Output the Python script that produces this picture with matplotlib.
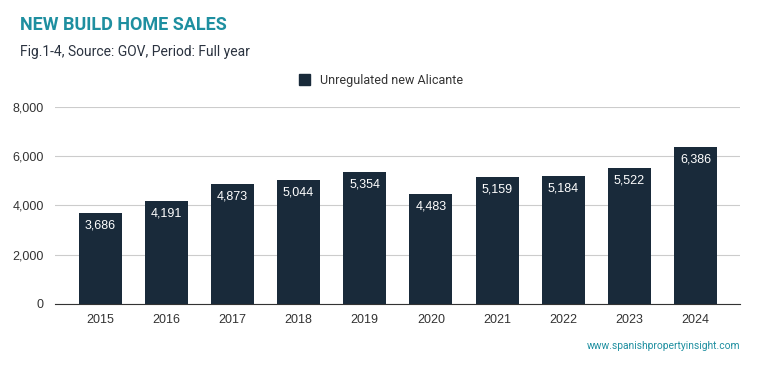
import matplotlib.pyplot as plt
from matplotlib.patches import Patch

plt.rcParams["font.family"] = ["Roboto", "DejaVu Sans"]

years = ["2015", "2016", "2017", "2018", "2019", "2020", "2021", "2022", "2023", "2024"]
sales = [3686, 4191, 4873, 5044, 5354, 4483, 5159, 5184, 5522, 6386]
yticks = [0, 2000, 4000, 6000, 8000]

BAR = "#192a3a"
TEAL = "#1e8fa0"
AX_FONT = ["Liberation Sans", "DejaVu Sans"]

fig = plt.figure(figsize=(7.59, 3.71), dpi=100)
ax = fig.add_axes([0.0725, 0.1806, 0.9025, 0.531])

x = range(len(years))
bars = ax.bar(x, sales, width=0.65, color=BAR, zorder=3)
for b, v in zip(bars, sales):
    ax.text(b.get_x() + b.get_width() / 2, v - 270, f"{v:,}",
            ha="center", va="top", color="white", fontsize=9,
            family=AX_FONT, zorder=4)

ax.set_xlim(-0.68, 9.67)
ax.set_ylim(0, 8000)
ax.set_yticks(yticks)
ax.set_yticklabels([f"{t:,}" for t in yticks], family=AX_FONT)
ax.set_xticks(list(x))
ax.set_xticklabels(years, family=AX_FONT)
ax.grid(axis="y", color="#cccccc", linewidth=0.8, zorder=0)
for s in ["top", "right", "left"]:
    ax.spines[s].set_visible(False)
ax.spines["bottom"].set_color("#333333")
ax.tick_params(axis="both", length=0, labelsize=9, colors="#333333")
ax.tick_params(axis="x", pad=7)
ax.tick_params(axis="y", pad=8)

fig.text(0.026, 0.932, "NEW BUILD HOME SALES", fontsize=13, fontweight="bold",
         color=TEAL, va="center", ha="left")
fig.text(0.026, 0.86, "Fig.1-4, Source: GOV, Period: Full year", fontsize=10,
         color="#2b3340", va="center", ha="left")

fig.legend(handles=[Patch(color=BAR, label="Unregulated new Alicante")],
           loc="center", bbox_to_anchor=(0.502, 0.784), frameon=False,
           fontsize=9, handlelength=0.9, handleheight=0.9, handletextpad=0.8,
           labelcolor="#333333")

fig.text(0.975, 0.067, "www.spanishpropertyinsight.com", fontsize=7.4,
         color=TEAL, ha="right", va="center")

fig.savefig("out.png", dpi=100, facecolor="white")
